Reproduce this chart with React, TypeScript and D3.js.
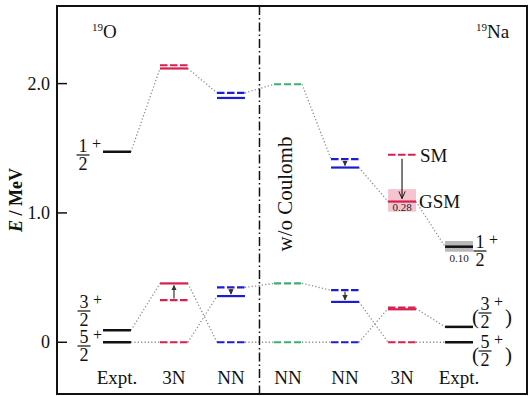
import React from "react";
import * as d3 from "d3";

// columns, left to right (19O | 19Na)
const colLabels = ["Expt.", "3N", "NN", "NN", "NN", "3N", "Expt."];
const colKinds = ["expt", "3n", "nn", "free", "nn", "3n", "expt"];

// solid levels (Expt. / GSM) and dashed levels (SM), MeV
const solidLevels = [
  [0, 0.093, 1.473],
  [0.455, 2.117],
  [0.357, 1.889],
  [],
  [0.312, 1.351],
  [0.255, 1.088],
  [0, 0.119, 0.739],
];
const dashedLevels = [
  [],
  [0, 0.326, 2.142],
  [0, 0.424, 1.928],
  [0, 0.455, 1.995],
  [0, 0.403, 1.416],
  [0, 0.268, 1.45],
  [],
];

// dotted connections: [column, E at its right end, E at next column's left end]
const links = [
  [0, 1.473, 2.117], [1, 2.117, 1.928], [2, 1.928, 1.995], [3, 1.995, 1.416], [4, 1.351, 1.088], [5, 1.088, 0.739],
  [0, 0.093, 0.455], [0, 0, 0], [1, 0.455, 0], [1, 0, 0.357], [2, 0.424, 0.455], [2, 0, 0],
  [3, 0.455, 0.403], [3, 0, 0], [4, 0.312, 0], [4, 0, 0.261], [5, 0.261, 0.119], [5, 0, 0],
];

// shifts SM -> GSM: [column, from, to]
const shifts = [[1, 0.326, 0.455], [2, 0.424, 0.357], [4, 1.416, 1.351], [4, 0.403, 0.312]];
const bigShift = [5, 1.45, 1.088];

// widths: [column, lower E, upper E, label]
const widths: [number, number, number, string][] = [
  [5, 1.01, 1.184, "0.28"],
  [6, 0.7, 0.783, "0.10"],
];

const yTicks = [0, 1.0, 2.0];
const yTickLabels = ["0", "1.0", "2.0"];

const W = 531, H = 396;
const frame = { left: 57, right: 527, top: 6, bottom: 394 };
const serif = "Liberation Serif, Tinos, Times New Roman, DejaVu Serif, serif";

const colorOf: Record<string, string> = {
  expt: "#111111",
  "3n": "#d81f4d",
  nn: "#1c1cd6",
  free: "#3fae74",
};

function Fraction(props: { cx: number; by: number; num: string; den: string; paren?: boolean }) {
  const { cx, by, num, den, paren } = props;
  return (
    <g style={{ fontFamily: serif }} fill="#111">
      <text x={cx} y={by - 3} fontSize={18} textAnchor="middle">{num}</text>
      <line x1={cx - 6.5} x2={cx + 6.5} y1={by} y2={by} stroke="#111" strokeWidth={1.2} />
      <text x={cx} y={by + 15} fontSize={18} textAnchor="middle">{den}</text>
      <text x={cx + 9} y={by - 6} fontSize={16}>+</text>
      {paren && (
        <>
          <text x={cx - 6} y={by + 11} fontSize={21} textAnchor="end">(</text>
          <text x={cx + 20} y={by + 11} fontSize={21}>)</text>
        </>
      )}
    </g>
  );
}

export default function App() {
  const x = d3
    .scaleBand<number>()
    .domain(d3.range(colLabels.length))
    .range([103, 473])
    .paddingInner(0.51)
    .paddingOuter(0);
  const bw = x.bandwidth();
  const y = d3.scaleLinear().domain([-0.4, 2.6]).range([frame.bottom, frame.top]);

  const divX = ((x(2) as number) + bw + (x(3) as number)) / 2;
  const cx = (i: number) => (x(i) as number) + bw / 2;

  return (
    <svg
      width={W}
      height={H}
      style={{ position: "absolute", left: 0, top: 0, background: "#fff", fontFamily: serif }}
    >
      <defs>
        <marker id="ah" viewBox="0 0 10 10" refX="9" refY="5" markerWidth="4.5" markerHeight="4.5" orient="auto">
          <path d="M0,0 L10,5 L0,10 z" fill="#333" />
        </marker>
        <marker id="vh" viewBox="0 0 10 10" refX="9" refY="5" markerWidth="8" markerHeight="8" orient="auto" markerUnits="userSpaceOnUse">
          <path d="M0,1 L9,5 L0,9" fill="none" stroke="#111" strokeWidth="1.2" />
        </marker>
      </defs>

      {/* width boxes */}
      {widths.map(([c, lo, hi, lab], i) => (
        <g key={"w" + i}>
          <rect
            x={x(c)}
            y={y(hi)}
            width={bw}
            height={y(lo) - y(hi)}
            fill={c === 5 ? "#f5c4ce" : "#b9b9b9"}
          />
          <text
            x={cx(c)}
            y={c === 5 ? y(lo) - 1 : y(lo) + 10}
            fontSize={11}
            textAnchor="middle"
            fill="#222"
          >
            {lab}
          </text>
        </g>
      ))}

      {/* dotted connectors */}
      {links.map(([c, e1, e2], i) => (
        <line
          key={"l" + i}
          x1={(x(c) as number) + bw}
          y1={y(e1)}
          x2={x(c + 1) as number}
          y2={y(e2)}
          stroke="#8a8a8a"
          strokeWidth={1.3}
          strokeDasharray="1.2,2.2"
        />
      ))}

      {/* levels */}
      {dashedLevels.map((lv, c) =>
        lv.map((e, j) => (
          <line
            key={"d" + c + j}
            x1={x(c)}
            x2={(x(c) as number) + bw}
            y1={y(e)}
            y2={y(e)}
            stroke={colorOf[colKinds[c]]}
            strokeWidth={2.2}
            strokeDasharray={colKinds[c] === "free" ? "7,3" : "7.5,2.5"}
          />
        ))
      )}
      {solidLevels.map((lv, c) =>
        lv.map((e, j) => (
          <line
            key={"s" + c + j}
            x1={x(c)}
            x2={(x(c) as number) + bw}
            y1={y(e)}
            y2={y(e)}
            stroke={colorOf[colKinds[c]]}
            strokeWidth={colKinds[c] === "expt" ? 2.5 : 2.2}
          />
        ))
      )}

      {/* small shift arrows */}
      {shifts.map(([c, e1, e2], i) => {
        const dir = e2 > e1 ? -1 : 1;
        return (
          <line
            key={"a" + i}
            x1={cx(c)}
            x2={cx(c)}
            y1={y(e1) + dir * 1.5}
            y2={y(e2) - dir * 2}
            stroke="#333"
            strokeWidth={1.2}
            markerEnd="url(#ah)"
          />
        );
      })}
      <line
        x1={cx(bigShift[0])}
        x2={cx(bigShift[0])}
        y1={y(bigShift[1]) + 4}
        y2={y(bigShift[2]) - 3}
        stroke="#111"
        strokeWidth={1.1}
        markerEnd="url(#vh)"
      />
      <text x={420} y={162} fontSize={19} fill="#111">SM</text>
      <text x={419} y={208} fontSize={19} fill="#111">GSM</text>

      {/* divider */}
      <line
        x1={divX}
        x2={divX}
        y1={frame.top}
        y2={frame.bottom}
        stroke="#111"
        strokeWidth={1.5}
        strokeDasharray="9,3,1.5,3"
      />
      <text x={292} y={194} fontSize={21} textAnchor="middle" transform="rotate(-90 292 194)" fill="#111">
        w/o Coulomb
      </text>

      {/* nucleus labels */}
      <text x={92} y={38} fill="#111">
        <tspan fontSize={11} dy={-7}>19</tspan>
        <tspan fontSize={19} dy={7}>O</tspan>
      </text>
      <text x={476} y={38} fill="#111">
        <tspan fontSize={11} dy={-7}>19</tspan>
        <tspan fontSize={19} dy={7}>Na</tspan>
      </text>

      {/* spin labels */}
      <Fraction cx={83} by={155} num="1" den="2" />
      <Fraction cx={84} by={311} num="3" den="2" />
      <Fraction cx={84} by={346} num="5" den="2" />
      <Fraction cx={480} by={251} num="1" den="2" />
      <Fraction cx={485} by={313} num="3" den="2" paren />
      <Fraction cx={485} by={351} num="5" den="2" paren />

      {/* column labels */}
      {colLabels.map((lab, i) => (
        <text key={"c" + i} x={cx(i)} y={384} fontSize={19} textAnchor="middle" fill="#111">
          {lab}
        </text>
      ))}

      {/* axis */}
      {yTicks.map((t, i) => (
        <g key={"t" + i}>
          <line x1={frame.left} x2={frame.left + 10} y1={y(t)} y2={y(t)} stroke="#111" strokeWidth={1.5} />
          <text x={50} y={y(t) + 6} fontSize={18} textAnchor="end" fill="#111">
            {yTickLabels[i]}
          </text>
        </g>
      ))}
      <text
        x={22}
        y={(frame.top + frame.bottom) / 2}
        fontSize={18}
        fontWeight="bold"
        textAnchor="middle"
        transform={`rotate(-90 22 ${(frame.top + frame.bottom) / 2})`}
        fill="#111"
      >
        <tspan fontStyle="italic">E</tspan> / MeV
      </text>

      <rect
        x={frame.left}
        y={frame.top}
        width={frame.right - frame.left}
        height={frame.bottom - frame.top}
        fill="none"
        stroke="#111"
        strokeWidth={2}
      />
    </svg>
  );
}
